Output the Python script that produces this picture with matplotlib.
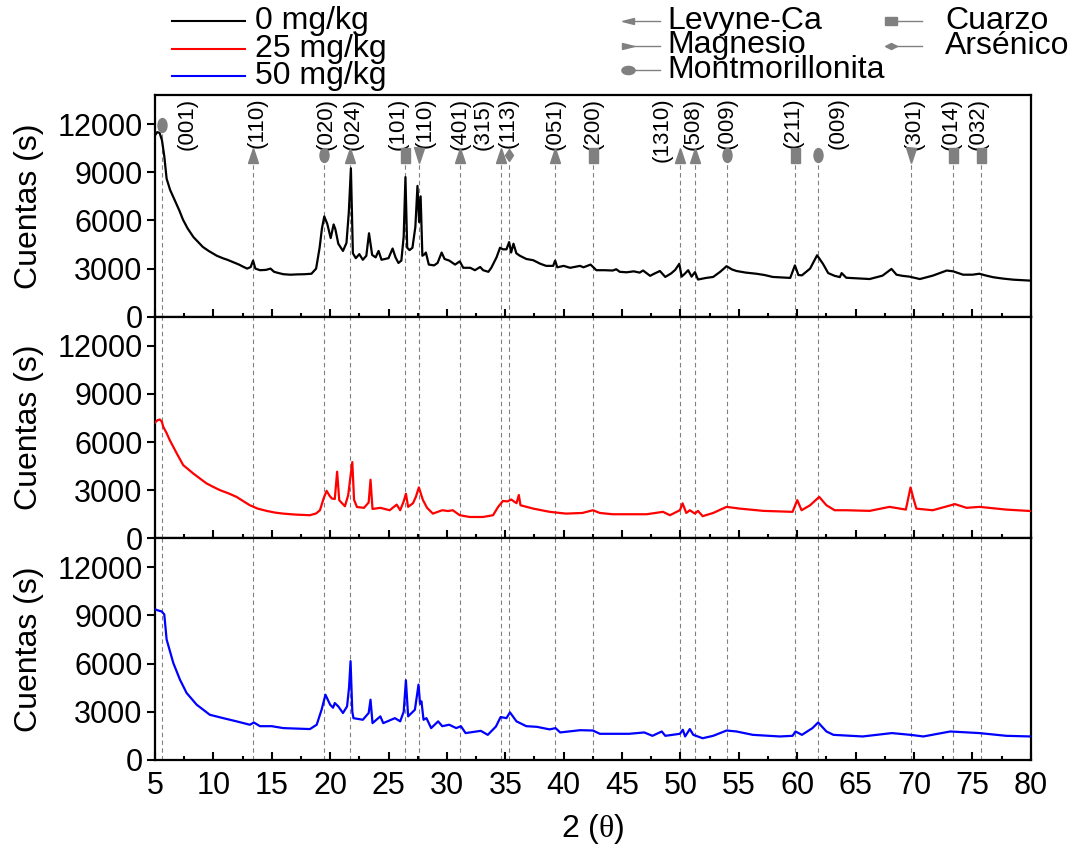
import matplotlib
matplotlib.use("Agg")
import matplotlib.pyplot as plt
from matplotlib.markers import MarkerStyle
from matplotlib.transforms import Affine2D
from matplotlib.lines import Line2D

plt.rcParams['font.family'] = ['Liberation Sans', 'DejaVu Sans']
plt.rcParams['mathtext.fontset'] = 'custom'
plt.rcParams['mathtext.rm'] = 'Liberation Sans'
plt.rcParams['mathtext.it'] = 'Liberation Serif'

# --- difractogramas (2theta, cuentas) ---
xy_0 = [(5.0, 11300), (5.2, 11500), (5.4, 11450), (5.6, 11000), (5.8, 10000), (6.0, 8600),
        (6.3, 7900), (6.7, 7250), (7.1, 6600), (7.4, 6050), (7.8, 5500), (8.3, 4960),
        (8.7, 4650), (9.1, 4350), (9.6, 4100), (10.3, 3800), (10.8, 3650), (11.2, 3550),
        (11.7, 3400), (12.2, 3250), (12.6, 3100), (12.9, 3000), (13.2, 3100), (13.4, 3500),
        (13.6, 3000), (14.0, 2900), (14.5, 2920), (14.9, 3000), (15.2, 2800), (15.6, 2720),
        (16.0, 2650), (16.6, 2620), (17.2, 2640), (17.8, 2650), (18.4, 2680), (18.8, 3000),
        (19.1, 4300), (19.3, 5500), (19.5, 6250), (19.75, 5800), (20.05, 4900), (20.3, 5750),
        (20.45, 5450), (20.7, 4550), (21.1, 4100), (21.4, 4600), (21.6, 6500), (21.78, 9250),
        (21.95, 3950), (22.2, 3650), (22.5, 3900), (22.8, 3550), (23.1, 3800), (23.33, 5200),
        (23.6, 3850), (23.9, 3700), (24.15, 4100), (24.4, 3550), (24.7, 3600), (25.0, 3650),
        (25.35, 4250), (25.6, 3700), (25.85, 3350), (26.1, 3500), (26.3, 5000), (26.45, 8700),
        (26.6, 4300), (26.8, 4150), (27.05, 4300), (27.3, 5600), (27.48, 8150), (27.62, 5900),
        (27.75, 7500), (27.9, 3800), (28.1, 3900), (28.2, 4000), (28.45, 3250), (28.9, 3200),
        (29.2, 3350), (29.55, 4000), (29.8, 3600), (30.2, 3500), (30.7, 3250), (31.1, 3450),
        (31.4, 3050), (32.0, 3050), (32.4, 2900), (32.85, 3100), (33.1, 2900), (33.55, 2800),
        (33.8, 3050), (34.25, 3700), (34.55, 4300), (34.8, 4200), (35.1, 4200), (35.33, 4650),
        (35.5, 4000), (35.7, 4550), (35.95, 3950), (36.25, 3800), (36.8, 3600), (37.4, 3520),
        (38.0, 3300), (38.5, 3170), (39.1, 3170), (39.27, 3500), (39.45, 3080), (40.0, 3170),
        (40.55, 3050), (41.4, 3170), (41.7, 3080), (42.3, 3250), (42.8, 2900), (43.5, 2900),
        (44.2, 2880), (44.5, 2960), (44.8, 2800), (45.4, 2770), (46.0, 2830), (46.5, 2750),
        (46.8, 2880), (47.4, 2550), (47.8, 2700), (48.24, 2850), (48.7, 2480), (49.2, 2700),
        (49.55, 2920), (49.9, 3300), (50.1, 2500), (50.4, 2700), (50.66, 2900), (50.95, 2500),
        (51.24, 2780), (51.5, 2320), (52.2, 2420), (52.8, 2480), (53.4, 2800), (53.95, 3150),
        (54.4, 2950), (54.8, 2850), (55.6, 2750), (56.5, 2680), (57.2, 2600), (57.9, 2480),
        (58.6, 2450), (59.4, 2420), (59.8, 3200), (60.1, 2600), (60.4, 2580), (61.1, 3000),
        (61.7, 3830), (62.2, 3300), (62.65, 2720), (63.2, 2550), (63.65, 2470), (63.8, 2720),
        (64.2, 2430), (65.0, 2400), (66.2, 2350), (67.3, 2560), (68.07, 2980), (68.5, 2620),
        (69.0, 2550), (69.6, 2500), (70.5, 2350), (71.6, 2560), (72.8, 2880), (73.35, 2830),
        (74.2, 2620), (75.0, 2620), (75.6, 2680), (76.2, 2560), (76.8, 2460), (77.6, 2380),
        (78.5, 2310), (79.2, 2280), (80.0, 2250)]

xy_25 = [(5.0, 7200), (5.2, 7350), (5.43, 7400), (5.6, 7250), (5.71, 6950), (6.0, 6550),
         (6.28, 6100), (6.86, 5300), (7.42, 4560), (8.28, 4040), (8.9, 3700), (9.42, 3420),
         (10.0, 3200), (10.57, 3000), (11.3, 2800), (11.99, 2580), (12.6, 2300), (13.13, 2060),
         (13.8, 1850), (14.56, 1710), (15.3, 1600), (15.98, 1540), (17.0, 1480), (18.27, 1440),
         (18.8, 1550), (19.13, 1750), (19.45, 2500), (19.7, 2960), (19.95, 2650), (20.15, 2480),
         (20.4, 2450), (20.6, 4150), (20.78, 2380), (21.0, 2200), (21.27, 2000), (21.55, 2700),
         (21.7, 3600), (21.9, 4750), (22.05, 2400), (22.3, 1950), (22.9, 1900), (23.3, 2230),
         (23.46, 3650), (23.63, 1830), (24.3, 1900), (25.1, 1750), (25.7, 2100), (26.0, 1750),
         (26.3, 2300), (26.49, 2780), (26.68, 1960), (27.1, 2190), (27.35, 2600), (27.6, 3170),
         (27.94, 2400), (28.3, 1900), (28.8, 1540), (29.6, 1750), (30.1, 1700), (30.5, 1750),
         (31.1, 1440), (31.95, 1330), (33.1, 1330), (33.95, 1440), (34.39, 1960), (34.8, 2330),
         (35.2, 2300), (35.5, 2420), (35.96, 2190), (36.16, 2700), (36.3, 2060), (37.4, 1850),
         (38.8, 1650), (40.2, 1540), (41.6, 1580), (42.5, 1750), (43.1, 1580), (44.2, 1500),
         (47.1, 1500), (48.5, 1650), (49.1, 1440), (49.95, 1750), (50.18, 2180), (50.5, 1580),
         (50.8, 1750), (51.24, 1540), (51.5, 1710), (51.9, 1380), (52.8, 1580), (53.95, 1960),
         (55.1, 1850), (57.1, 1710), (59.6, 1650), (60.0, 2380), (60.37, 1750), (61.1, 2060),
         (61.88, 2580), (62.5, 2060), (63.2, 1750), (64.2, 1750), (66.2, 1710), (67.9, 1960),
         (69.3, 1790), (69.7, 3170), (69.95, 2480), (70.2, 1850), (71.6, 1750), (73.5, 2130),
         (74.5, 1900), (75.6, 1960), (77.9, 1790), (80.0, 1700)]

xy_50 = [(5.0, 9380), (5.3, 9300), (5.57, 9250), (5.8, 9060), (6.0, 7500), (6.57, 6040),
         (7.14, 5000), (7.71, 4170), (8.57, 3440), (9.7, 2810), (10.85, 2600), (11.99, 2400),
         (13.13, 2190), (13.47, 2330), (13.99, 2100), (15.0, 2100), (16.0, 1980), (18.27, 1920),
         (18.85, 2190), (19.27, 3125), (19.6, 4060), (20.0, 3440), (20.25, 3250), (20.4, 3540),
         (20.7, 3330), (21.1, 2920), (21.45, 3330), (21.62, 4500), (21.75, 6150), (21.9, 3000),
         (22.0, 2600), (22.8, 2500), (23.3, 2920), (23.46, 3750), (23.63, 2290), (24.3, 2710),
         (24.55, 2290), (25.55, 2600), (26.0, 2400), (26.3, 3000), (26.49, 4960), (26.68, 2710),
         (27.26, 3125), (27.57, 4690), (27.7, 3500), (27.82, 3650), (28.0, 2500), (28.25, 2600),
         (28.65, 1980), (29.25, 2400), (29.6, 2100), (30.2, 2190), (30.8, 1980), (31.2, 2100),
         (31.6, 1670), (32.9, 1810), (33.5, 1560), (34.2, 2080), (34.6, 2670), (35.1, 2600),
         (35.4, 2960), (35.96, 2400), (36.8, 2100), (37.7, 2060), (38.8, 1900), (39.3, 1980),
         (39.7, 1710), (41.4, 1850), (42.5, 1830), (43.1, 1625), (45.6, 1625), (46.9, 1710),
         (47.6, 1500), (48.4, 1770), (48.7, 1500), (49.95, 1625), (50.2, 1875), (50.4, 1460),
         (50.8, 1920), (51.1, 1560), (51.9, 1350), (52.8, 1500), (53.95, 1830), (54.8, 1770),
         (56.2, 1560), (58.5, 1460), (59.6, 1500), (59.85, 1770), (60.4, 1560), (61.3, 1980),
         (61.79, 2330), (62.5, 1770), (63.1, 1560), (65.6, 1460), (68.1, 1670), (69.7, 1560),
         (70.8, 1460), (73.1, 1770), (75.6, 1670), (77.9, 1500), (80.0, 1460)]

series_labels = ['0 mg/kg', '25 mg/kg', '50 mg/kg']
series_colors = ['black', 'red', 'blue']

# --- reflexiones identificadas ---
peak_pos = [5.63, 13.42, 19.5, 21.7, 26.43, 27.58, 31.1, 34.6, 35.28, 39.27, 42.5,
            49.95, 51.26, 53.97, 59.82, 61.79, 69.75, 73.35, 75.7]
peak_phase = ['M', 'L', 'M', 'L', 'Q', 'G', 'L', 'L', 'A', 'L', 'Q',
              'L', 'L', 'M', 'Q', 'M', 'G', 'Q', 'Q']
peak_hkl = ['(001)', '(110)', '(020)', '(024)', '(101)', '(110)', '(401)', '(315)', '(113)',
            '(051)', '(200)', '(1310)', '(508)', '(009)', '(211)', '(009)', '(301)', '(014)', '(032)']

phase_names = {'L': 'Levyne-Ca', 'G': 'Magnesio', 'M': 'Montmorillonita',
               'Q': 'Cuarzo', 'A': 'Arsénico'}

gray = '#808080'

def mk(m, sx, sy):
    return MarkerStyle(m, transform=Affine2D().scale(sx, sy))

plot_marker = {'L': (mk('^', 0.65, 1.0), 10.8), 'G': (mk('v', 0.65, 1.0), 10.8),
               'M': (mk('o', 0.65, 1.0), 10.0), 'Q': (mk('s', 0.6, 1.0), 10.8),
               'A': (mk('D', 0.6, 1.0), 6.6)}
leg_marker = {'L': (mk('<', 1.0, 0.55), 9), 'G': (mk('>', 1.0, 0.55), 9),
              'M': (mk('o', 1.0, 0.62), 9.5), 'Q': (mk('s', 1.0, 0.58), 9),
              'A': (mk('D', 1.0, 0.55), 6)}

# desplazamiento horizontal de las etiquetas (hkl)
lab_dx = [2.14, 0.34, 0.14, 0.28, -0.6, 0.56, 0.0, -1.5, 0.0, 0.0, 0.0,
          -1.55, -0.15, 0.0, -0.17, 1.7, 0.3, -0.15, -0.2]

fig, axes = plt.subplots(3, 1, sharex=True, figsize=(10.76, 8.5), dpi=100)
fig.subplots_adjust(left=0.144, right=0.958, top=0.888, bottom=0.106, hspace=0)

for i, (ax, xy) in enumerate(zip(axes, [xy_0, xy_25, xy_50])):
    xs = [p[0] for p in xy]
    ys = [p[1] for p in xy]
    ax.plot(xs, ys, color=series_colors[i], lw=1.6, zorder=3)
    ax.set_xlim(5, 80)
    ax.set_ylim(0, 13800)
    ax.set_yticks([0, 3000, 6000, 9000, 12000])
    ax.set_xticks(range(5, 81, 5))
    ax.set_xticks([x + 2.5 for x in range(5, 80, 5)], minor=True)
    ax.tick_params(axis='x', which='major', direction='in', length=6, width=1.5,
                   labelsize=22, pad=8)
    ax.tick_params(axis='x', which='minor', direction='in', length=3, width=1.5)
    ax.tick_params(axis='y', direction='out', length=6, width=1.5, labelsize=22, pad=3)
    for s in ax.spines.values():
        s.set_linewidth(1.6)
    ax.set_ylabel('Cuentas (s)', fontsize=23)
    ax.yaxis.set_label_coords(-0.127, 0.5)
    if i == 0:
        tops = [11400 if p < 6 else 9550 for p in peak_pos]
        ax.vlines(peak_pos, 0, tops, colors=gray, linestyles=(0, (4, 3)), lw=0.8, zorder=1)
    else:
        for p in peak_pos:
            ax.axvline(p, color=gray, ls=(0, (4, 3)), lw=0.8, zorder=1)

top = axes[0]
for j, p in enumerate(peak_pos):
    m, ms = plot_marker[peak_phase[j]]
    yv = 11940 if p < 6 else 10050
    top.plot([p], [yv], ls='none', marker=m, ms=ms, color=gray, mec=gray, zorder=4)
    top.text(p + lab_dx[j], 13650, peak_hkl[j], rotation=90, ha='center', va='top',
             fontsize=16)

axes[2].set_xlabel('2 ($\\theta$)', fontsize=23, labelpad=8)

# leyenda de las muestras
W, H = 1076.0, 850.0
for i, lab in enumerate(series_labels):
    yy = 1 - (21 + 27.5 * i) / H
    fig.add_artist(Line2D([172 / W, 245 / W], [yy, yy], color=series_colors[i], lw=1.5,
                          transform=fig.transFigure))
    fig.text(255 / W, yy, lab, fontsize=23, va='center', ha='left')

# leyenda de las fases
leg_cols = [(['L', 'G', 'M'], 628, 660, 667), (['Q', 'A'], 891, 922, 945)]
for keys, mx, lx, tx in leg_cols:
    for r, k in enumerate(keys):
        yy = 1 - (21 + 24.5 * r) / H
        m, ms = leg_marker[k]
        fig.add_artist(Line2D([mx / W, lx / W], [yy, yy], color=gray, lw=1.0,
                              transform=fig.transFigure))
        fig.add_artist(Line2D([mx / W], [yy], ls='none', marker=m, ms=ms, color=gray,
                              transform=fig.transFigure))
        fig.text(tx / W, yy, phase_names[k], fontsize=23, va='center', ha='left')

fig.savefig('out.png', dpi=100)
